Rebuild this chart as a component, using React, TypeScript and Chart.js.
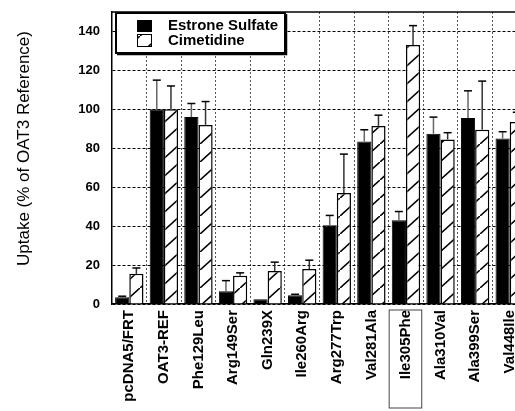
import React, { useEffect, useRef } from 'react';
import { Chart, registerables } from 'chart.js';

Chart.register(...registerables);

const categories = [
  'pcDNA5/FRT', 'OAT3-REF', 'Phe129Leu', 'Arg149Ser', 'Gln239X', 'Ile260Arg',
  'Arg277Trp', 'Val281Ala', 'Ile305Phe', 'Ala310Val', 'Ala399Ser', 'Val448Ile',
];
const seriesNames = ['Estrone Sulfate', 'Cimetidine'];
const estroneSulfate = [3.5, 100, 96, 6.5, 2.5, 4.5, 40.5, 83.5, 43, 87.5, 95.5, 85];
const estroneSulfateErr = [0.5, 15, 7, 5.5, 0, 0.5, 5, 6, 4.5, 8.5, 14, 3.5];
const cimetidine = [15.5, 100, 92, 14.5, 17, 18, 57, 91.5, 133, 84.5, 89.5, 93.5];
const cimetidineErr = [3, 12, 12, 1.5, 4.5, 4.5, 20, 5.5, 10, 3.5, 25, 5];
const yTicks = [0, 20, 40, 60, 80, 100, 120, 140];
const yMax = 150;
const yTitle = 'Uptake (% of OAT3 Reference)';
const highlighted = 'Ile305Phe';

const FONT = '"Liberation Sans", Arial, Helvetica, sans-serif';

function makeHatch(ctx: CanvasRenderingContext2D): CanvasPattern {
  const w = 20;
  const h = 18;
  const c = document.createElement('canvas');
  c.width = w;
  c.height = h;
  const g = c.getContext('2d')!;
  g.fillStyle = '#fff';
  g.fillRect(0, 0, w, h);
  g.strokeStyle = '#000';
  g.lineWidth = 1.6;
  g.beginPath();
  g.moveTo(-2, h + (2 * h) / w);
  g.lineTo(w + 2, -(2 * h) / w);
  g.stroke();
  return ctx.createPattern(c, 'repeat')!;
}

export default function App() {
  const ref = useRef<HTMLCanvasElement>(null);

  useEffect(() => {
    const canvas = ref.current!;
    const ctx = canvas.getContext('2d')!;
    Chart.defaults.font.family = FONT;
    Chart.defaults.color = '#000';
    const hatch = makeHatch(ctx);
    const errs = [estroneSulfateErr, cimetidineErr];

    const errorBars = {
      id: 'errorBars',
      afterDatasetsDraw(chart: any) {
        const c = chart.ctx;
        const ys = chart.scales.y;
        chart.data.datasets.forEach((ds: any, di: number) => {
          const meta = chart.getDatasetMeta(di);
          meta.data.forEach((bar: any, i: number) => {
            const e = errs[di][i];
            if (!e) return;
            const v = ds.data[i] as number;
            const top = ys.getPixelForValue(v + e);
            const base = ys.getPixelForValue(v);
            c.save();
            c.strokeStyle = di === 0 ? '#666' : '#333';
            c.lineWidth = 1.5;
            c.beginPath();
            c.moveTo(bar.x, base);
            c.lineTo(bar.x, top);
            c.stroke();
            c.strokeStyle = '#000';
            c.beginPath();
            c.moveTo(bar.x - 4, top);
            c.lineTo(bar.x + 4, top);
            c.stroke();
            c.restore();
          });
        });
      },
    };

    const decorations = {
      id: 'decorations',
      afterDraw(chart: any) {
        const c = chart.ctx;
        const area = chart.chartArea;
        const xs = chart.scales.x;
        c.save();
        // top frame line
        c.strokeStyle = '#000';
        c.lineWidth = 1.5;
        c.beginPath();
        c.moveTo(area.left, area.top);
        c.lineTo(area.right, area.top);
        c.stroke();

        // y axis title
        c.save();
        c.translate(24, 148.5);
        c.rotate(-Math.PI / 2);
        c.font = `17px ${FONT}`;
        c.fillStyle = '#000';
        c.textAlign = 'center';
        c.textBaseline = 'middle';
        c.fillText(yTitle, 0, 0);
        c.restore();

        // highlighted label box
        const hi = categories.indexOf(highlighted);
        if (hi >= 0) {
          const cx = xs.getPixelForValue(hi);
          const half = (area.right - area.left) / categories.length / 2;
          c.strokeStyle = '#444';
          c.lineWidth = 1;
          c.strokeRect(cx - half + 0.5, area.bottom + 6, half * 2 - 2, 98);
        }

        // legend
        const lx = 116;
        const ly = 13;
        const lw = 169;
        const lh = 40;
        c.fillStyle = '#fff';
        c.fillRect(lx, ly, lw, lh);
        c.strokeStyle = '#000';
        c.lineWidth = 2;
        c.strokeRect(lx, ly, lw, lh);
        c.lineWidth = 1.5;
        c.beginPath();
        c.moveTo(lx + 1, ly + lh + 1.5);
        c.lineTo(lx + lw + 1.5, ly + lh + 1.5);
        c.lineTo(lx + lw + 1.5, ly + 1);
        c.stroke();

        const ds = chart.data.datasets;
        c.fillStyle = '#000';
        c.fillRect(137, 20, 15, 12);
        c.fillStyle = hatch;
        c.fillRect(137, 34, 15, 13);
        c.strokeStyle = '#000';
        c.lineWidth = 1;
        c.strokeRect(137.5, 34.5, 14, 12);

        c.fillStyle = '#000';
        c.font = `bold 15px ${FONT}`;
        c.textAlign = 'left';
        c.textBaseline = 'middle';
        c.fillText(ds[0].label, 168, 26);
        c.fillText(ds[1].label, 168, 40.5);
        c.restore();
      },
    };

    const chart = new Chart(ctx, {
      type: 'bar',
      data: {
        labels: categories,
        datasets: [
          {
            label: seriesNames[0],
            data: estroneSulfate,
            backgroundColor: '#000',
            borderColor: '#000',
            borderWidth: 1,
          },
          {
            label: seriesNames[1],
            data: cimetidine,
            backgroundColor: hatch,
            borderColor: '#000',
            borderWidth: 1.5,
          },
        ],
      },
      options: {
        responsive: false,
        animation: false,
        devicePixelRatio: 1,
        layout: { padding: { top: 12, right: 13, bottom: 0, left: 0 } },
        plugins: { legend: { display: false }, tooltip: { enabled: false } },
        datasets: { bar: { categoryPercentage: 0.82, barPercentage: 1 } },
        scales: {
          x: {
            grid: { offset: true, color: '#555', lineWidth: 1, drawTicks: false },
            border: { display: true, color: '#000', width: 1.5, dash: [2, 2] },
            ticks: {
              autoSkip: false,
              minRotation: 90,
              maxRotation: 90,
              padding: 6,
              color: '#000',
              font: { size: 15, weight: 'bold', family: FONT },
            },
            afterFit(s: any) {
              s.height = 107;
              s.paddingLeft = 0;
              s.paddingRight = 0;
            },
          },
          y: {
            min: 0,
            max: yMax,
            ticks: {
              stepSize: 20,
              padding: 12,
              color: '#000',
              font: { size: 13, weight: 'bold', family: FONT },
            },
            afterBuildTicks(s: any) {
              s.ticks = yTicks.map((v) => ({ value: v }));
            },
            grid: { color: '#000', lineWidth: 1, drawTicks: false },
            border: { display: true, color: '#000', width: 1.5, dash: [3, 2] },
            afterFit(s: any) {
              s.width = 112;
              s.paddingTop = 0;
              s.paddingBottom = 0;
            },
          },
        },
      } as any,
      plugins: [errorBars, decorations],
    });

    return () => chart.destroy();
  }, []);

  return (
    <div
      style={{
        position: 'fixed',
        left: 0,
        top: 0,
        width: 515,
        height: 411,
        overflow: 'hidden',
        background: '#fff',
      }}
    >
      <canvas ref={ref} width={540} height={411} style={{ display: 'block', width: 540, height: 411 }} />
    </div>
  );
}
